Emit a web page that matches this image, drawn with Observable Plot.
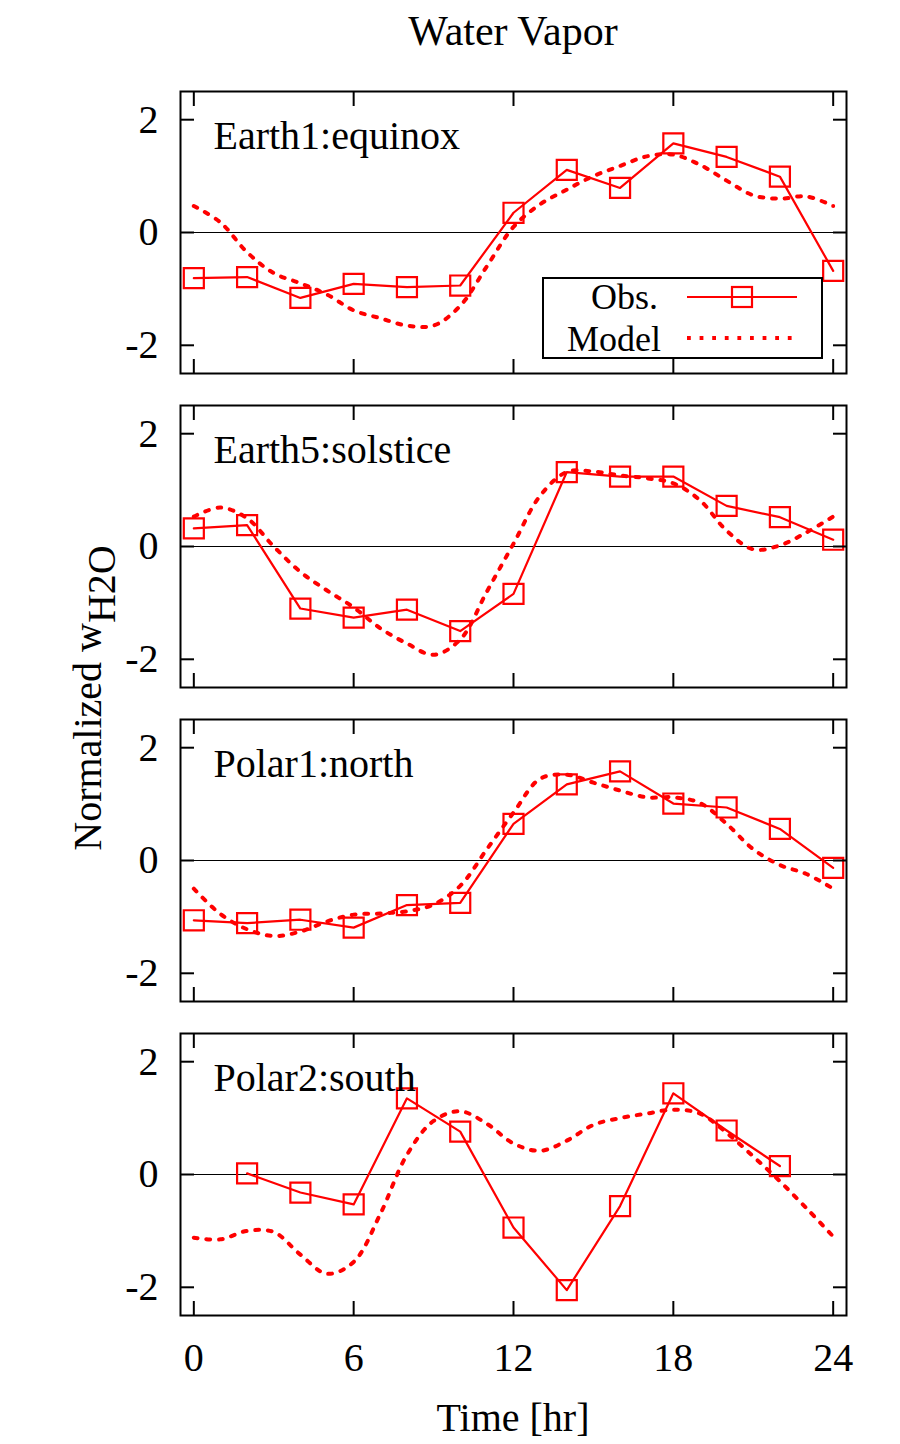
<!DOCTYPE html>
<html><head><meta charset="utf-8">
<script src="https://cdn.jsdelivr.net/npm/d3@7"></script>
<script src="https://cdn.jsdelivr.net/npm/@observablehq/plot@0.6"></script>
<style>
body{margin:0;background:#fff;}
#wrap{position:relative;width:900px;height:1444px;font-family:"Liberation Serif",serif;}
#wrap svg{position:absolute;left:0;top:0;}
#wrap svg text{font-family:"Liberation Serif",serif;}
</style></head><body><div id="wrap"></div>
<script>
// ---------- data ----------
const panels = ["Earth1:equinox", "Earth5:solstice", "Polar1:north", "Polar2:south"];
const obsHours = [0, 2, 4, 6, 8, 10, 12, 14, 16, 18, 20, 22, 24];
const obsEarth1 = [-0.81, -0.79, -1.16, -0.91, -0.97, -0.94, 0.35, 1.11, 0.79, 1.58, 1.34, 0.99, -0.68];
const obsEarth5 = [0.32, 0.38, -1.10, -1.26, -1.12, -1.50, -0.84, 1.32, 1.24, 1.24, 0.72, 0.52, 0.12];
const obsPolar1 = [-1.06, -1.11, -1.05, -1.19, -0.79, -0.75, 0.65, 1.35, 1.58, 1.01, 0.94, 0.56, -0.13];
const obsPolar2 = [null, 0.02, -0.32, -0.53, 1.35, 0.76, -0.94, -2.05, -0.56, 1.44, 0.78, 0.15, null];
const modelHours = [0, 1, 2, 3, 4, 5, 6, 7, 8, 9, 10, 11, 12, 13, 14, 15, 16, 17, 18, 19, 20, 21, 22, 23, 24];
const modelEarth1 = [0.47, 0.18, -0.35, -0.72, -0.90, -1.10, -1.38, -1.52, -1.65, -1.65, -1.30, -0.60, 0.10, 0.50, 0.76, 1.00, 1.18, 1.35, 1.38, 1.20, 0.92, 0.66, 0.60, 0.64, 0.47];
const modelEarth5 = [0.53, 0.69, 0.50, 0.00, -0.45, -0.78, -1.08, -1.45, -1.72, -1.92, -1.65, -0.80, 0.05, 0.90, 1.32, 1.33, 1.26, 1.21, 1.12, 0.82, 0.28, -0.05, 0.02, 0.25, 0.53];
const modelPolar1 = [-0.50, -0.95, -1.22, -1.34, -1.26, -1.08, -0.96, -0.94, -0.90, -0.78, -0.45, 0.20, 0.85, 1.45, 1.52, 1.38, 1.24, 1.12, 1.12, 1.02, 0.65, 0.20, -0.08, -0.24, -0.50];
const modelPolar2 = [-1.12, -1.15, -1.00, -1.02, -1.42, -1.76, -1.55, -0.70, 0.35, 0.95, 1.12, 0.90, 0.55, 0.42, 0.60, 0.88, 1.00, 1.08, 1.15, 1.08, 0.74, 0.32, -0.12, -0.60, -1.10];
const xTicks = [0, 6, 12, 18, 24];
const yTicks = [-2, 0, 2];
const legendLabels = ["Obs.", "Model"];
const titleText = "Water Vapor";
const xLabel = "Time [hr]";

// ---------- tables ----------
const obsSeries = [obsEarth1, obsEarth5, obsPolar1, obsPolar2];
const modelSeries = [modelEarth1, modelEarth5, modelPolar1, modelPolar2];
const obs = [], model = [];
panels.forEach((p, i) => {
  obsSeries[i].forEach((v, j) => obs.push({panel: p, hour: obsHours[j], value: v}));
  modelSeries[i].forEach((v, j) => model.push({panel: p, hour: modelHours[j], value: v}));
});

const FONT = 40;
const FAMILY = "Liberation Serif, serif";
const RED = "#ff0000";
const DOTS = "3.8 8.8";
const tickStyle = {tickSize: -14, strokeWidth: 2, fill: "none", label: null, facetAnchor: null};

const chart = Plot.plot({
  width: 900, height: 1444,
  marginLeft: 180, marginRight: 54, marginTop: 90, marginBottom: 128,
  style: {fontFamily: FAMILY, fontSize: FONT + "px", background: "transparent", color: "black"},
  x: {domain: [-0.5, 24.5]},
  y: {domain: [-2.5, 2.5]},
  fy: {domain: panels, axis: null, paddingInner: 0.1016, paddingOuter: 0},
  marks: [
    Plot.ruleY([0], {stroke: "black", strokeWidth: 1}),
    Plot.line(model, {x: "hour", y: "value", fy: "panel", curve: "catmull-rom", stroke: RED, strokeWidth: 4, strokeDasharray: DOTS}),
    Plot.line(obs, {x: "hour", y: "value", fy: "panel", stroke: RED, strokeWidth: 2.2}),
    Plot.dot(obs, {x: "hour", y: "value", fy: "panel", symbol: "square", r: 11.3, stroke: RED, strokeWidth: 2.2, fill: "none"}),
    Plot.text(panels, {fy: d => d, text: d => d, frameAnchor: "top-left", textAnchor: "start", lineAnchor: "top", dx: 33, dy: 29, fontSize: FONT, fontFamily: FAMILY, fill: "black"}),
    Plot.axisX({ticks: xTicks, anchor: "bottom", ...tickStyle}),
    Plot.axisX({ticks: xTicks, anchor: "top", ...tickStyle}),
    Plot.axisY({ticks: yTicks, anchor: "left", ...tickStyle}),
    Plot.axisY({ticks: yTicks, anchor: "right", ...tickStyle}),
    Plot.axisX({ticks: xTicks, anchor: "bottom", tickSize: 0, tickPadding: 27, tickFormat: d => String(d), label: null, fontSize: FONT, fontFamily: FAMILY}),
    Plot.axisY({ticks: yTicks, anchor: "left", tickSize: 0, tickPadding: 22, tickFormat: d => String(d), label: null, fontSize: FONT, fontFamily: FAMILY, facetAnchor: null}),
    Plot.frame({stroke: "black", strokeWidth: 2})
  ]
});
const wrap = document.getElementById("wrap");
wrap.appendChild(chart);

// ---------- overlay: title, axis labels, legend ----------
const ov = d3.select(wrap).append("svg").attr("width", 900).attr("height", 1444)
  .attr("font-family", FAMILY).attr("font-size", FONT);
ov.append("text").attr("x", 513).attr("y", 45).attr("text-anchor", "middle").attr("font-size", 42).text(titleText);
ov.append("text").attr("x", 513).attr("y", 1431).attr("text-anchor", "middle").text(xLabel);
const yl = ov.append("text").attr("transform", "translate(101,698) rotate(-90)").attr("text-anchor", "middle");
yl.append("tspan").text("Normalized w");
yl.append("tspan").attr("dy", 14).text("H2O");

const lg = ov.append("g").attr("font-size", 36);
lg.append("rect").attr("x", 543).attr("y", 278).attr("width", 279).attr("height", 80)
  .attr("fill", "white").attr("stroke", "black").attr("stroke-width", 2);
lg.append("text").attr("x", 658).attr("y", 309).attr("text-anchor", "end").text(legendLabels[0]);
lg.append("text").attr("x", 661).attr("y", 351).attr("text-anchor", "end").text(legendLabels[1]);
lg.append("line").attr("x1", 687).attr("x2", 797).attr("y1", 297).attr("y2", 297).attr("stroke", RED).attr("stroke-width", 2.2);
lg.append("rect").attr("x", 732).attr("y", 287).attr("width", 20).attr("height", 20).attr("fill", "none").attr("stroke", RED).attr("stroke-width", 2.2);
lg.append("line").attr("x1", 687).attr("x2", 797).attr("y1", 338).attr("y2", 338).attr("stroke", RED).attr("stroke-width", 4).attr("stroke-dasharray", DOTS);
</script></body></html>
